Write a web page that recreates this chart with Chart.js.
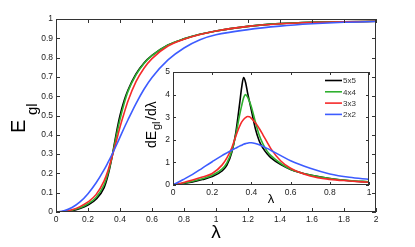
<!DOCTYPE html>
<html>
<head>
<meta charset="utf-8">
<script src="https://cdn.jsdelivr.net/npm/chart.js@4.4.1/dist/chart.umd.min.js"></script>
<style>
  html, body { margin: 0; padding: 0; background: #fff; }
  #wrap { position: relative; width: 415px; height: 247px; }
  #main { position: absolute; left: 0; top: 0; }
  #inset { position: absolute; left: 135px; top: 62px; }
</style>
</head>
<body>
<div id="wrap">
  <canvas id="main" width="415" height="247"></canvas>
  <canvas id="inset" width="240" height="148"></canvas>
</div>
<script>
// main plot: E_gl vs lambda
const lambdaMain = [0, 0.05, 0.1, 0.15, 0.2, 0.25, 0.3, 0.325, 0.35, 0.375, 0.4, 0.425, 0.45,
  0.5, 0.55, 0.6, 0.7, 0.8, 0.9, 1.0, 1.2, 1.4, 1.6, 1.8, 2.0];
const e5x5 = [0, 0.002, 0.007, 0.018, 0.036, 0.066, 0.125, 0.19, 0.285, 0.4, 0.5, 0.575, 0.632,
  0.715, 0.772, 0.811, 0.865, 0.897, 0.921, 0.938, 0.962, 0.976, 0.983, 0.986, 0.988];
const e4x4 = [0, 0.002, 0.009, 0.022, 0.043, 0.075, 0.14, 0.2, 0.285, 0.385, 0.48, 0.56, 0.625,
  0.71, 0.77, 0.81, 0.865, 0.897, 0.921, 0.938, 0.962, 0.976, 0.983, 0.986, 0.988];
const e3x3 = [0, 0.003, 0.012, 0.028, 0.052, 0.09, 0.16, 0.215, 0.285, 0.36, 0.44, 0.51, 0.575,
  0.675, 0.745, 0.795, 0.86, 0.895, 0.92, 0.938, 0.962, 0.975, 0.982, 0.986, 0.988];
const e2x2 = [0, 0.006, 0.023, 0.052, 0.095, 0.15, 0.218, 0.257, 0.298, 0.342, 0.388, 0.434, 0.478,
  0.562, 0.636, 0.697, 0.788, 0.85, 0.893, 0.918, 0.945, 0.963, 0.975, 0.983, 0.987];

// inset: dE_gl/dlambda vs lambda
const lambdaInset = [0, 0.05, 0.1, 0.15, 0.2, 0.25, 0.275, 0.3, 0.32, 0.34, 0.35, 0.36, 0.37, 0.38,
  0.39, 0.4, 0.42, 0.44, 0.46, 0.48, 0.5, 0.55, 0.6, 0.7, 0.8, 0.9, 1.0];
const d5x5 = [0, 0.06, 0.13, 0.24, 0.37, 0.62, 0.88, 1.45, 2.3, 3.6, 4.3, 4.75, 4.55, 4.1,
  3.7, 3.3, 2.5, 1.95, 1.62, 1.38, 1.2, 0.9, 0.69, 0.44, 0.29, 0.19, 0.13];
const d4x4 = [0, 0.08, 0.17, 0.28, 0.43, 0.7, 0.98, 1.5, 2.2, 3.1, 3.5, 3.85, 4.0, 3.9,
  3.7, 3.45, 2.8, 2.2, 1.8, 1.5, 1.3, 0.95, 0.7, 0.44, 0.29, 0.2, 0.14];
const d3x3 = [0, 0.1, 0.22, 0.35, 0.51, 0.88, 1.2, 1.65, 2.15, 2.6, 2.78, 2.9, 2.98, 3.03,
  3.02, 2.95, 2.75, 2.5, 2.2, 1.9, 1.6, 1.06, 0.74, 0.4, 0.25, 0.18, 0.12];
const d2x2 = [0, 0.23, 0.47, 0.75, 1.03, 1.3, 1.42, 1.54, 1.63, 1.72, 1.76, 1.8, 1.83, 1.85,
  1.87, 1.87, 1.84, 1.78, 1.7, 1.62, 1.53, 1.3, 1.07, 0.74, 0.49, 0.34, 0.25];

const seriesLabels = ['5x5', '4x4', '3x3', '2x2'];
const seriesColors = ['#000000', '#2fb02f', '#f52a2a', '#3d5cff'];

const FONT = '"Liberation Sans", Arial, Helvetica, sans-serif';
Chart.defaults.font.family = FONT;

const toPoints = (xs, ys) => xs.map((x, i) => ({ x: x, y: ys[i] }));

function makeDatasets(xs, series) {
  return series.map((ys, i) => ({
    label: seriesLabels[i],
    data: toPoints(xs, ys),
    borderColor: seriesColors[i],
    borderWidth: 1.6,
    pointRadius: 0,
    cubicInterpolationMode: 'monotone',
    fill: false,
    order: series.length - i
  }));
}

const fmt = v => String(Math.round(v * 10) / 10);

// inward ticks on all four sides + box
const frameTicks = {
  id: 'frameTicks',
  beforeDatasetsDraw(chart, args, opts) {
    const { ctx, chartArea: a } = chart;
    ctx.save();
    ctx.fillStyle = '#fff';
    ctx.fillRect(a.left, a.top, a.width, a.height);
    ctx.restore();
  },
  afterDatasetsDraw(chart, args, opts) {
    const { ctx, chartArea: a, scales: { x, y } } = chart;
    const len = opts.len || 3;
    ctx.save();
    ctx.strokeStyle = '#333';
    ctx.lineWidth = 1;
    ctx.beginPath();
    x.ticks.forEach(t => {
      const px = Math.round(x.getPixelForValue(t.value)) + 0.5;
      ctx.moveTo(px, a.bottom); ctx.lineTo(px, a.bottom - len);
      ctx.moveTo(px, a.top); ctx.lineTo(px, a.top + len);
    });
    y.ticks.forEach(t => {
      const py = Math.round(y.getPixelForValue(t.value)) + 0.5;
      ctx.moveTo(a.left, py); ctx.lineTo(a.left + len, py);
      ctx.moveTo(a.right, py); ctx.lineTo(a.right - len, py);
    });
    ctx.stroke();
    ctx.strokeRect(Math.round(a.left) + 0.5, Math.round(a.top) + 0.5,
      Math.round(a.width) - 1, Math.round(a.height) - 1);
    ctx.restore();
  }
};

// text pieces placed along a (possibly rotated) baseline
function drawParts(ctx, x, y, rot, parts) {
  ctx.save();
  ctx.translate(x, y);
  if (rot) ctx.rotate(rot);
  ctx.fillStyle = '#000';
  ctx.textAlign = 'left';
  ctx.textBaseline = 'alphabetic';
  parts.forEach(p => {
    ctx.font = p.size + 'px ' + FONT;
    ctx.fillText(p.t, p.x, p.dy || 0);
  });
  ctx.restore();
}

function axisScales(xmax, xstep, ymax, ystep, yWidth, xHeight) {
  const tickOpts = { padding: 3, color: '#222', font: { size: 8.5 }, callback: fmt, maxRotation: 0 };
  return {
    x: {
      type: 'linear', min: 0, max: xmax,
      ticks: Object.assign({ stepSize: xstep, autoSkip: false }, tickOpts),
      grid: { display: false, drawTicks: false },
      border: { display: false },
      afterFit: s => { s.height = xHeight; }
    },
    y: {
      type: 'linear', min: 0, max: ymax,
      ticks: Object.assign({ stepSize: ystep }, tickOpts),
      grid: { display: false, drawTicks: false },
      border: { display: false },
      afterFit: s => { s.width = yWidth; }
    }
  };
}

new Chart(document.getElementById('main'), {
  type: 'line',
  data: { datasets: makeDatasets(lambdaMain, [e5x5, e4x4, e3x3, e2x2]) },
  options: {
    responsive: false,
    devicePixelRatio: 1,
    animation: false,
    parsing: false,
    layout: { padding: { top: 19, right: 39, left: 0, bottom: 0 } },
    scales: axisScales(2, 0.2, 1, 0.1, 56, 35),
    plugins: {
      legend: { display: false },
      tooltip: { enabled: false },
      frameTicks: { len: 4 }
    }
  },
  plugins: [frameTicks, {
    id: 'mainTitles',
    afterDraw(chart) {
      const ctx = chart.ctx;
      drawParts(ctx, 25, 133, -Math.PI / 2, [
        { t: 'E', size: 20, x: 0 },
        { t: 'gl', size: 15, x: 18, dy: 12 }
      ]);
      ctx.save();
      ctx.font = '19px ' + FONT;
      ctx.textAlign = 'center';
      ctx.fillStyle = '#000';
      ctx.fillText('λ', 216, 238);
      ctx.restore();
    }
  }]
});

new Chart(document.getElementById('inset'), {
  type: 'line',
  data: { datasets: makeDatasets(lambdaInset, [d5x5, d4x4, d3x3, d2x2]) },
  options: {
    responsive: false,
    devicePixelRatio: 1,
    animation: false,
    parsing: false,
    layout: { padding: { top: 10, right: 6, left: 0, bottom: 0 } },
    scales: axisScales(1, 0.2, 5, 1, 38, 25),
    plugins: {
      legend: { display: false },
      tooltip: { enabled: false },
      frameTicks: { len: 3 }
    }
  },
  plugins: [frameTicks, {
    id: 'insetTitles',
    afterDraw(chart) {
      const { ctx, chartArea: a } = chart;
      drawParts(ctx, 21, 86, -Math.PI / 2, [
        { t: 'dE', size: 14, x: 0 },
        { t: 'gl', size: 11, x: 18, dy: 4 },
        { t: '/dλ', size: 14, x: 28 }
      ]);
      ctx.save();
      ctx.font = '13px ' + FONT;
      ctx.textAlign = 'center';
      ctx.fillStyle = '#000';
      ctx.fillText('λ', (a.left + a.right) / 2, 141);
      // legend, top right inside the axes
      ctx.font = '8px ' + FONT;
      ctx.textAlign = 'left';
      ctx.textBaseline = 'middle';
      chart.data.datasets.forEach((ds, i) => {
        const yy = a.top + 8.5 + i * 11.3;
        ctx.strokeStyle = ds.borderColor;
        ctx.lineWidth = 1.6;
        ctx.beginPath();
        ctx.moveTo(a.right - 44, yy);
        ctx.lineTo(a.right - 27, yy);
        ctx.stroke();
        ctx.fillStyle = '#333';
        ctx.fillText(ds.label, a.right - 26, yy + 0.5);
      });
      ctx.restore();
    }
  }]
});
</script>
</body>
</html>
